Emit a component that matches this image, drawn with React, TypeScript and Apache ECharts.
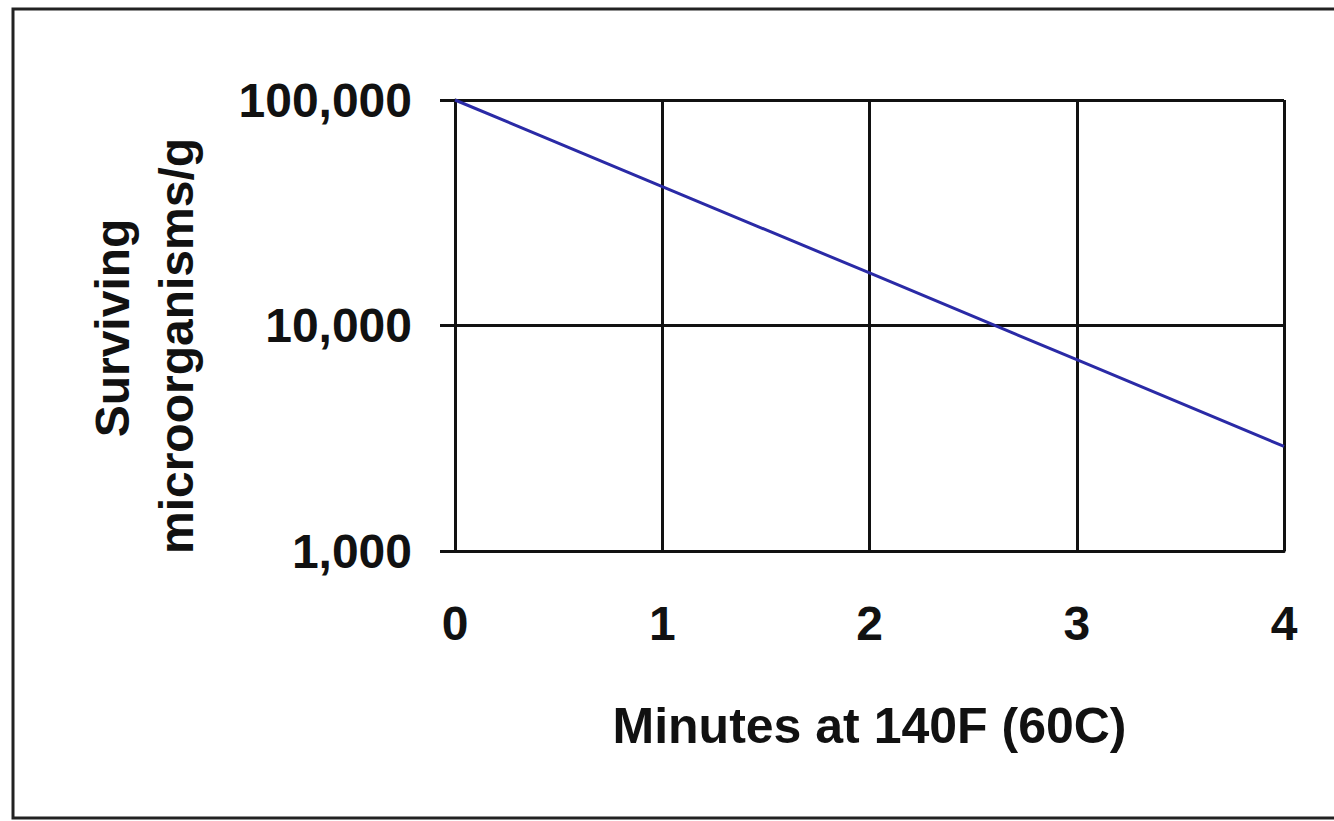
import React, { useEffect, useRef } from "react";
import * as echarts from "echarts";

const minutes = [0, 1, 2, 3, 4];
const survivors = [100000, 41300, 17100, 7050, 2910];
const xTicks = ["0", "1", "2", "3", "4"];
const yTickValues = [1000, 10000, 100000];
const xAxisTitle = "Minutes at 140F (60C)";
const yAxisTitleLines = ["Surviving", "microorganisms/g"];

const FONT = '"Liberation Sans", Arial, sans-serif';

export default function App() {
  const ref = useRef<HTMLDivElement>(null);
  useEffect(() => {
    if (!ref.current) return;
    const chart = echarts.init(ref.current, undefined, { renderer: "svg" });
    const lineStyle = { color: "#111", width: 3 };
    chart.setOption({
      animation: false,
      backgroundColor: "#fff",
      grid: { left: 455, right: 50, top: 100, bottom: 270, containLabel: false },
      xAxis: {
        type: "value",
        min: 0,
        max: 4,
        interval: 1,
        axisLine: { show: true, lineStyle },
        axisTick: { show: false },
        splitLine: { show: true, lineStyle },
        axisLabel: {
          margin: 48,
          color: "#111",
          fontFamily: FONT,
          fontWeight: "bold",
          fontSize: 48,
          formatter: (v: number) => xTicks[Math.round(v)] ?? String(v),
        },
        name: xAxisTitle,
        nameLocation: "middle",
        nameGap: 150,
        nameTextStyle: {
          color: "#111",
          fontFamily: FONT,
          fontWeight: "bold",
          fontSize: 50,
        },
      },
      yAxis: {
        type: "log",
        logBase: 10,
        min: yTickValues[0],
        max: yTickValues[yTickValues.length - 1],
        axisLine: { show: true, lineStyle },
        axisTick: { show: true, inside: false, length: 15, lineStyle },
        minorTick: { show: false },
        splitLine: { show: true, lineStyle },
        axisLabel: {
          margin: 43,
          color: "#111",
          fontFamily: FONT,
          fontWeight: "bold",
          fontSize: 48,
          formatter: (v: number) => Math.round(v).toLocaleString("en-US"),
        },
      },
      graphic: [
        {
          type: "rect",
          shape: { x: 13, y: 9, width: 1400, height: 809 },
          style: { fill: "none", stroke: "#222", lineWidth: 3 },
          silent: true,
        },
        {
          type: "text",
          x: 112,
          y: 328,
          rotation: Math.PI / 2,
          style: {
            text: yAxisTitleLines[0],
            font: `bold 48px ${FONT}`,
            fill: "#111",
            align: "center",
            verticalAlign: "middle",
          },
        },
        {
          type: "text",
          x: 176,
          y: 346,
          rotation: Math.PI / 2,
          style: {
            text: yAxisTitleLines[1],
            font: `bold 48px ${FONT}`,
            fill: "#111",
            align: "center",
            verticalAlign: "middle",
          },
        },
      ],
      series: [
        {
          type: "line",
          data: minutes.map((m, i) => [m, survivors[i]]),
          showSymbol: false,
          symbol: "none",
          lineStyle: { color: "#2a2aa6", width: 3 },
          z: 5,
        },
      ],
    });
    return () => chart.dispose();
  }, []);
  return (
    <div
      ref={ref}
      style={{ position: "absolute", left: 0, top: 0, width: 1334, height: 821 }}
    />
  );
}
